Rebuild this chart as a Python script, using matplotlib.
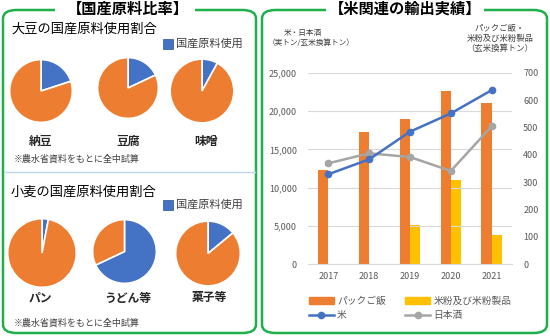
import matplotlib
matplotlib.use('Agg')
import matplotlib.pyplot as plt
from matplotlib.patches import FancyBboxPatch, Patch
from matplotlib.lines import Line2D

plt.rcParams['font.family'] = ['Noto Sans CJK JP', 'DejaVu Sans']

# --- data ---
soy_items = ['納豆', '豆腐', '味噌']
soy_domestic = [20, 18, 8]          # % domestic raw material
wheat_items = ['パン', 'うどん等', '菓子等']
wheat_domestic = [3, 68, 14]

years = ['2017', '2018', '2019', '2020', '2021']
pack_rice = [12270, 17270, 19020, 22580, 21110]     # left axis
rice_flour = [0, 0, 144, 309, 107]                  # right axis
rice = [11750, 13700, 17320, 19710, 22750]          # left axis
sake = [13180, 14490, 14000, 12180, 18010]          # left axis

BLUE = '#4472C4'
ORANGE = '#ED7D31'
YELLOW = '#FFC000'
GRAY = '#A5A5A5'
GREEN = '#1DB04B'
W, H = 550, 336


def fx(x):
    return x / W


def fy(y):
    return 1 - y / H


fig = plt.figure(figsize=(5.5, 3.36), dpi=100)

# frames
for x0, x1 in [(3, 256), (262, 547)]:
    box = FancyBboxPatch((fx(x0), fy(333)), fx(x1) - fx(x0), fy(10) - fy(333),
                         boxstyle='round,pad=0,rounding_size=0.025',
                         transform=fig.transFigure, fill=False,
                         edgecolor=GREEN, linewidth=1.8)
    fig.add_artist(box)

# gaps behind titles
for x0, x1 in [(55, 195), (326, 484)]:
    fig.add_artist(plt.Rectangle((fx(x0), fy(16)), fx(x1) - fx(x0), fy(4) - fy(16),
                                 transform=fig.transFigure, facecolor='white',
                                 edgecolor='none', zorder=3))
fig.text(fx(128), fy(9), '【国産原料比率】', ha='center', va='center',
         fontsize=11, fontweight='bold', zorder=4)
fig.text(fx(405), fy(9), '【米関連の輸出実績】', ha='center', va='center',
         fontsize=11, fontweight='bold', zorder=4)

# divider in left panel
fig.add_artist(Line2D([fx(5), fx(255)], [fy(172), fy(172)], color='#BDD7EE',
                      linewidth=1, transform=fig.transFigure))


def pie_block(items, values, centers, radii, label_x, title_y, legend_y, label_y,
              note_y, title):
    fig.text(fx(11), fy(title_y), title, ha='left', va='center', fontsize=9.5)
    fig.add_artist(plt.Rectangle((fx(163), fy(legend_y + 5)), fx(10), fy(0) - fy(10),
                                 transform=fig.transFigure, facecolor=BLUE,
                                 edgecolor='#2F528F', linewidth=0.5))
    fig.text(fx(176), fy(legend_y), '国産原料使用', ha='left', va='center',
             fontsize=8, color='#404040')
    for item, v, (cx, cy), r, lx in zip(items, values, centers, radii, label_x):
        ax = fig.add_axes([fx(cx - r), fy(cy + r), 2 * r / W, 2 * r / H])
        ax.pie([v, 100 - v], colors=[BLUE, ORANGE], startangle=90,
               counterclock=False, radius=1,
               wedgeprops=dict(edgecolor='white', linewidth=1.2))
        ax.set_xlim(-1.02, 1.02)
        ax.set_ylim(-1.02, 1.02)
        ax.axis('off')
        fig.text(fx(lx), fy(label_y), item, ha='center', va='center',
                 fontsize=8.5, fontweight='bold', color='#262626')
    fig.text(fx(14), fy(note_y), '※農水省資料をもとに全中試算', ha='left',
             va='center', fontsize=6.5, color='#404040')


pie_block(soy_items, soy_domestic, [(41, 91), (128, 88), (202, 91)], [32, 31, 32.5],
          [41, 128, 206], 29, 44, 141, 159, '大豆の国産原料使用割合')
pie_block(wheat_items, wheat_domestic, [(42, 253), (124.5, 251.5), (208, 253.5)],
          [35, 32.5, 33], [40, 128, 209], 192, 205, 298, 323, '小麦の国産原料使用割合')

# --- export chart ---
ax = fig.add_axes([fx(308), fy(264), fx(512) - fx(308), fy(73) - fy(264)])
ax2 = ax.twinx()
x = list(range(len(years)))
bw = 0.25
ax.bar([i - bw / 2 for i in x], pack_rice, width=bw, color=ORANGE, zorder=2)
ax2.bar([i + bw / 2 for i in x], rice_flour, width=bw, color=YELLOW, zorder=2)
ax.plot(x, rice, color=BLUE, marker='o', markersize=4.5, linewidth=1.8, zorder=4)
ax.plot(x, sake, color=GRAY, marker='o', markersize=4.5, linewidth=1.8, zorder=3)
ax.set_zorder(ax2.get_zorder() + 1)
ax.patch.set_visible(False)

ax.set_xlim(-0.5, 4.5)
ax.set_ylim(0, 25000)
ax2.set_ylim(0, 700)
ax.set_yticks(range(0, 25001, 5000))
ax.set_yticklabels([f'{v:,}' for v in range(0, 25001, 5000)])
ax2.set_yticks(range(0, 701, 100))
ax.set_xticks(x)
ax.set_xticklabels(years)
ax.grid(axis='y', color='#D9D9D9', linewidth=0.8, zorder=0)
for a in (ax, ax2):
    for s in a.spines.values():
        s.set_visible(False)
    a.tick_params(length=0, labelsize=6.5, colors='#595959', pad=8)
ax.spines['bottom'].set_visible(True)
ax.spines['bottom'].set_color('#D9D9D9')
ax.tick_params(axis='x', pad=6)

fig.text(fx(303), fy(33), '米・日本酒', ha='center', va='center', fontsize=5.5, color='#404040')
fig.text(fx(311), fy(43), '（実トン/玄米換算トン）', ha='center', va='center',
         fontsize=5.5, color='#404040')
fig.text(fx(500), fy(28), 'パックご飯・', ha='center', va='center', fontsize=6, color='#404040')
fig.text(fx(500), fy(38), '米粉及び米粉製品', ha='center', va='center', fontsize=6, color='#404040')
fig.text(fx(500), fy(48), '（玄米換算トン）', ha='center', va='center', fontsize=6, color='#404040')

handles = [Patch(color=ORANGE),
           Line2D([], [], color=BLUE, marker='o', markersize=4.5, linewidth=1.8),
           Patch(color=YELLOW),
           Line2D([], [], color=GRAY, marker='o', markersize=4.5, linewidth=1.8)]
labels = ['パックご飯', '米', '米粉及び米粉製品', '日本酒']
fig.legend(handles, labels, loc='upper left', bbox_to_anchor=(fx(300), fy(287)),
           ncol=2, frameon=False, fontsize=7, handlelength=2.6, handleheight=0.8,
           handletextpad=0.3, columnspacing=2.0, labelspacing=0.45,
           labelcolor='#595959')

fig.savefig('out.png', dpi=100)
